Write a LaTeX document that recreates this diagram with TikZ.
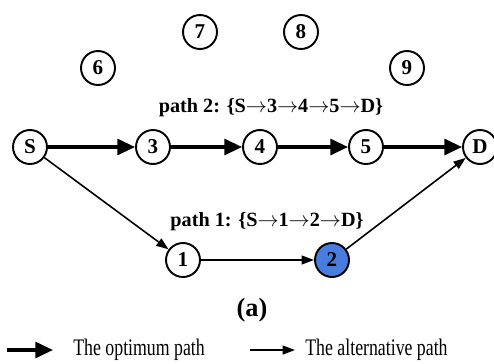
\documentclass[tikz,border=0pt]{standalone}
\usepackage{fontspec}
\setmainfont{Liberation Serif}
\usetikzlibrary{arrows.meta,positioning,calc}
\definecolor{nodeblue}{RGB}{72,124,222}
\newcommand{\legtext}[1]{\scalebox{0.75}[1]{\fontsize{13.5}{14}\selectfont #1}}

\begin{document}
\begin{tikzpicture}[x=0.02cm,y=-0.02cm,
    vtx/.style={circle,draw,line width=1.1pt,minimum size=0.68cm,inner sep=0pt,font=\bfseries\large},
    optim/.style={line width=1.8pt,-{Triangle[length=10pt,width=9pt]}},
    altern/.style={line width=0.9pt,-{Triangle[length=7pt,width=5pt]}}]
  \useasboundingbox (0,0) rectangle (494,363);
  \node[vtx] (n6) at (98,68) {6};
  \node[vtx] (n7) at (200,32) {7};
  \node[vtx] (n8) at (301,32) {8};
  \node[vtx] (n9) at (407,68) {9};
  \node[vtx] (s) at (30,147) {S};
  \node[vtx] (n3) at (153,147) {3};
  \node[vtx] (n4) at (260,147) {4};
  \node[vtx] (n5) at (366,147) {5};
  \node[vtx] (d) at (480,147) {D};
  \node[vtx] (n1) at (183,260) {1};
  \node[vtx,fill=nodeblue] (n2) at (332,260) {2};
  \draw[optim] (s) -- (n3);
  \draw[optim] (n3) -- (n4);
  \draw[optim] (n4) -- (n5);
  \draw[optim] (n5) -- (d);
  \draw[altern] (s) -- (n1);
  \draw[altern] (n1) -- (n2);
  \draw[altern] (n2) -- (d);
  \node[font=\bfseries\fontsize{11.5}{13}\selectfont] (lab2) at (271,108) {path 2: \{S$\rightarrow$3$\rightarrow$4$\rightarrow$5$\rightarrow$D\}};
  \node[font=\bfseries\fontsize{11.5}{13}\selectfont] (lab1) at (267,222) {path 1: \{S$\rightarrow$1$\rightarrow$2$\rightarrow$D\}};
  \node[font=\bfseries\fontsize{15}{16}\selectfont] (cap) at (252,310) {(a)};
  % legend
  \coordinate (k1a) at (7,350);
  \coordinate (k1b) at (53,350);
  \draw[optim] (k1a) -- (k1b);
  \node[anchor=west,inner sep=0pt] (t1) at (73,350) {\legtext{The optimum path}};
  \coordinate (k2a) at (250,350);
  \coordinate (k2b) at (295,350);
  \draw[altern] (k2a) -- (k2b);
  \node[anchor=west,inner sep=0pt] (t2) at (305,350) {\legtext{The alternative path}};
\end{tikzpicture}
\end{document}
